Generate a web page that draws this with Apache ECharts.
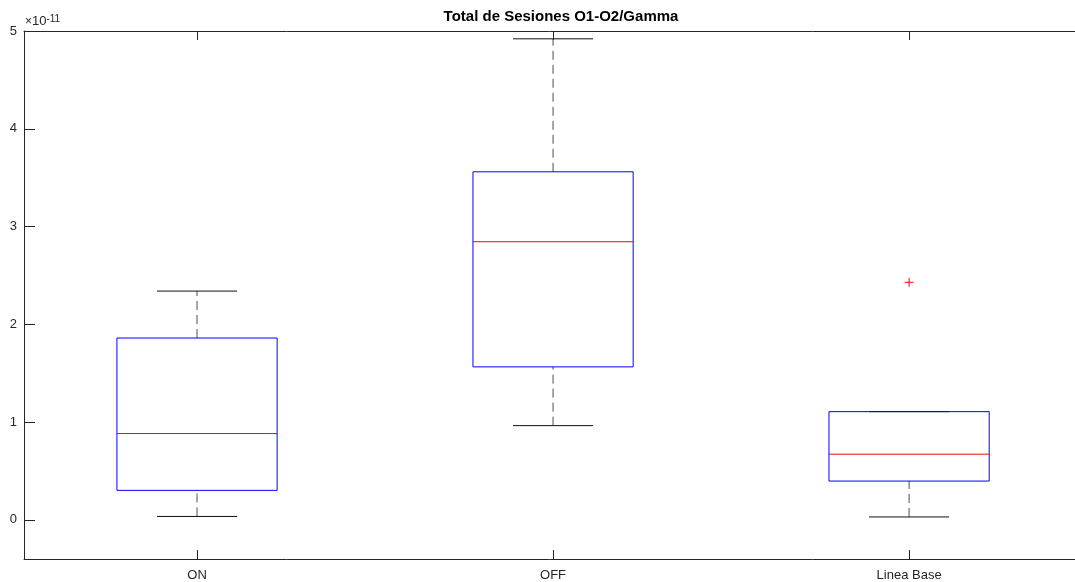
<!DOCTYPE html>
<html>
<head>
<meta charset="utf-8">
<title>Total de Sesiones O1-O2/Gamma</title>
<script src="https://cdn.jsdelivr.net/npm/echarts@6/dist/echarts.min.js"></script>
<style>
  html, body { margin: 0; padding: 0; background: #fff; }
  #chart { width: 1075px; height: 582px; }
</style>
</head>
<body>
<div id="chart"></div>
<script>
// Box statistics per group, in units of 1e-11
const categories = ['ON', 'OFF', 'Linea Base'];
const lowerWhisker = [0.035, 0.964, 0.03];
const q1 = [0.302, 1.565, 0.397];
const median = [0.883, 2.845, 0.672];
const q3 = [1.86, 3.56, 1.107];
const upperWhisker = [2.34, 4.92, 1.107];
// Outliers: [group position (1-based), value]
const outliers = [[3, 2.43]];
const yTicks = [0, 1, 2, 3, 4, 5];
const exponent = '-11';

const boxHalf = 0.225;
const capHalf = 0.1125;
const FONT = '"Liberation Sans", Arial, Helvetica, sans-serif';
const AXIS_COLOR = '#262626';

const boxData = categories.map((c, i) =>
  [i + 1, lowerWhisker[i], q1[i], median[i], q3[i], upperWhisker[i]]);

function renderBox(params, api) {
  const x = api.value(0);
  const lw = api.value(1), b1 = api.value(2), md = api.value(3),
        b3 = api.value(4), uw = api.value(5);
  const P = (xx, yy) => api.coord([xx, yy]);
  const line = (a, b, style) => ({
    type: 'line',
    shape: { x1: a[0], y1: a[1], x2: b[0], y2: b[1] },
    style: style
  });
  const dashStyle = { stroke: '#4d4d4d', lineWidth: 1, lineDash: [9, 5] };
  const capStyle = { stroke: '#111', lineWidth: 1 };
  const children = [];
  // whiskers
  if (uw > b3) children.push(line(P(x, b3), P(x, uw), dashStyle));
  if (lw < b1) children.push(line(P(x, lw), P(x, b1), dashStyle));
  // caps
  children.push(line(P(x - capHalf, uw), P(x + capHalf, uw), capStyle));
  children.push(line(P(x - capHalf, lw), P(x + capHalf, lw), capStyle));
  // box
  const tl = P(x - boxHalf, b3), br = P(x + boxHalf, b1);
  children.push({
    type: 'rect',
    shape: { x: tl[0], y: tl[1], width: br[0] - tl[0], height: br[1] - tl[1] },
    style: { fill: 'none', stroke: '#0000ff', lineWidth: 1 }
  });
  // median
  children.push(line(P(x - boxHalf, md), P(x + boxHalf, md), { stroke: '#ff0000', lineWidth: 1 }));
  return { type: 'group', children: children };
}

function renderOutlier(params, api) {
  const c = api.coord([api.value(0), api.value(1)]);
  const h = 4.5;
  const st = { stroke: '#ff0000', lineWidth: 1 };
  return {
    type: 'group',
    children: [
      { type: 'line', shape: { x1: c[0] - h, y1: c[1], x2: c[0] + h, y2: c[1] }, style: st },
      { type: 'line', shape: { x1: c[0], y1: c[1] - h, x2: c[0], y2: c[1] + h }, style: st }
    ]
  };
}

const chart = echarts.init(document.getElementById('chart'), null, { renderer: 'canvas' });

const xTickVals = categories.map((c, i) => i + 1);
const X_MIN = 0.514, X_MAX = 3.466;

chart.setOption({
  animation: false,
  backgroundColor: '#ffffff',
  title: {
    text: 'Total de Sesiones O1-O2/Gamma',
    left: 556,
    textAlign: 'center',
    top: 4,
    textStyle: { fontFamily: FONT, fontSize: 15, fontWeight: 'bold', color: '#000' }
  },
  grid: { left: 24, top: 31, right: 0, bottom: 21, containLabel: false },
  graphic: [{
    type: 'text',
    left: 25,
    top: 14,
    style: {
      text: '{m|\u00d7}{b|10}{s|' + exponent + '}',
      rich: {
        m: { fontFamily: FONT, fontSize: 12, fill: AXIS_COLOR, verticalAlign: 'bottom' },
        b: { fontFamily: FONT, fontSize: 13, fill: AXIS_COLOR, verticalAlign: 'bottom' },
        s: { fontFamily: FONT, fontSize: 10, fill: AXIS_COLOR, verticalAlign: 'top', padding: [0, 0, 4, 0] }
      }
    }
  }],
  xAxis: [{
    type: 'value',
    position: 'bottom',
    min: X_MIN,
    max: X_MAX,
    splitLine: { show: false },
    axisLine: { show: true, onZero: false, lineStyle: { color: AXIS_COLOR, width: 1 } },
    axisTick: { show: true, inside: true, length: 9, customValues: xTickVals, lineStyle: { color: AXIS_COLOR } },
    axisLabel: {
      customValues: xTickVals,
      formatter: v => categories[Math.round(v) - 1] || '',
      margin: 10,
      fontFamily: FONT, fontSize: 13, color: AXIS_COLOR
    }
  }, {
    type: 'value',
    position: 'top',
    min: X_MIN,
    max: X_MAX,
    splitLine: { show: false },
    axisLine: { show: true, onZero: false, lineStyle: { color: AXIS_COLOR, width: 1 } },
    axisTick: { show: true, inside: true, length: 9, customValues: xTickVals, lineStyle: { color: AXIS_COLOR } },
    axisLabel: { show: false }
  }],
  yAxis: [{
    type: 'value',
    min: -0.4,
    max: 5,
    splitLine: { show: false },
    axisLine: { show: true, onZero: false, lineStyle: { color: AXIS_COLOR, width: 1 } },
    axisTick: { show: true, inside: true, length: 11, customValues: yTicks, lineStyle: { color: AXIS_COLOR } },
    axisLabel: {
      customValues: yTicks,
      margin: 7,
      fontFamily: FONT, fontSize: 13, color: AXIS_COLOR
    }
  }],
  series: [{
    type: 'custom',
    renderItem: renderBox,
    data: boxData,
    encode: { x: 0, y: [1, 2, 3, 4, 5] },
    clip: false,
    z: 2
  }, {
    type: 'custom',
    renderItem: renderOutlier,
    data: outliers,
    encode: { x: 0, y: 1 },
    z: 3
  }]
});
</script>
</body>
</html>
